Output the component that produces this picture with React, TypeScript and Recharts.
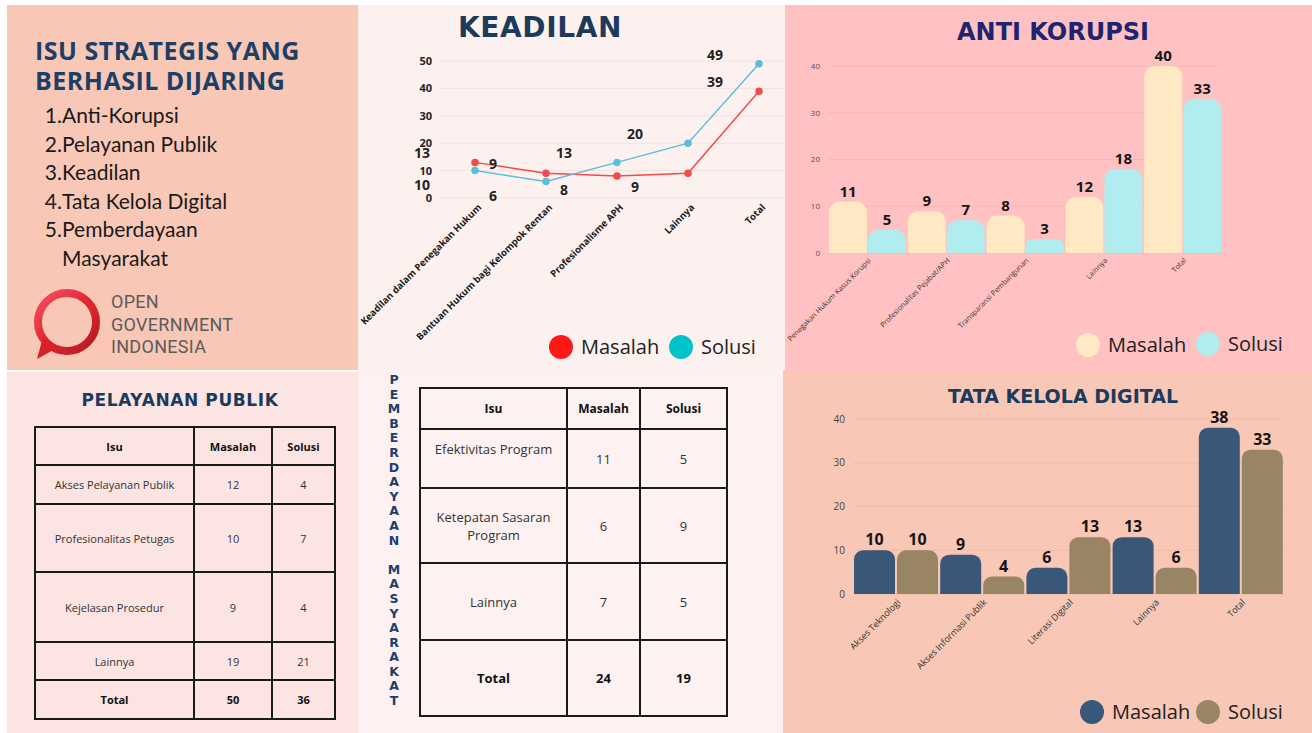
import React from 'react';
import { LineChart, Line, BarChart, Bar, XAxis, YAxis, CartesianGrid, LabelList } from 'recharts';

// ─── Data ─────────────────────────────────────────────────────────────────────

const isuList = ['Anti-Korupsi', 'Pelayanan Publik', 'Keadilan', 'Tata Kelola Digital', 'Pemberdayaan Masyarakat'];

const keadilanCats = [
  'Keadilan dalam Penegakan Hukum',
  'Bantuan Hukum bagi Kelompok Rentan',
  'Profesionalisme APH',
  'Lainnya',
  'Total',
];
const keadilanMasalah = [13, 9, 8, 9, 39];
const keadilanSolusi = [10, 6, 13, 20, 49];
const keadilanTicks = [0, 10, 20, 30, 40, 50];

const antiCats = [
  'Penegakan Hukum Kasus Korupsi',
  'Profesionalitas Pejabat/APH',
  'Transparansi Pembangunan',
  'Lainnya',
  'Total',
];
const antiMasalah = [11, 9, 8, 12, 40];
const antiSolusi = [5, 7, 3, 18, 33];
const antiTicks = [0, 10, 20, 30, 40];

const digitalCats = ['Akses Teknologi', 'Akses Informasi Publik', 'Literasi Digital', 'Lainnya', 'Total'];
const digitalMasalah = [10, 9, 6, 13, 38];
const digitalSolusi = [10, 4, 13, 6, 33];
const digitalTicks = [0, 10, 20, 30, 40];

const pelayananIsu = ['Akses Pelayanan Publik', 'Profesionalitas Petugas', 'Kejelasan Prosedur', 'Lainnya', 'Total'];
const pelayananMasalah = [12, 10, 9, 19, 50];
const pelayananSolusi = [4, 7, 4, 21, 36];

const pemberdayaanIsu = ['Efektivitas Program', 'Ketepatan Sasaran Program', 'Lainnya', 'Total'];
const pemberdayaanMasalah = [11, 6, 7, 24];
const pemberdayaanSolusi = [5, 9, 5, 19];

// ─── Helpers ──────────────────────────────────────────────────────────────────

const SANS = '"Open Sans", "Noto Sans", sans-serif';
const HEAVY = '"DejaVu Sans", Lato, sans-serif';

function zip(cats: string[], a: number[], b: number[]) {
  return cats.map((name, i) => ({ name, masalah: a[i], solusi: b[i] }));
}

function SlantTick(props: any) {
  const { x, y, payload, size, color, weight, dx = 0, dy = 0 } = props;
  return (
    <g transform={`translate(${x + dx},${y + dy})`}>
      <text
        textAnchor="end"
        transform="rotate(-45)"
        fontSize={size}
        fill={color}
        fontWeight={weight}
        fontFamily={SANS}
      >
        {payload.value}
      </text>
    </g>
  );
}

function LegendDot({ x, y, color, label }: { x: number; y: number; color: string; label: string }) {
  return (
    <div style={{ position: 'absolute', left: x - 12, top: y - 12, display: 'flex', alignItems: 'center' }}>
      <div style={{ width: 24, height: 24, borderRadius: 12, background: color }} />
      <span style={{ marginLeft: 8, fontFamily: SANS, fontSize: 20, color: '#222', lineHeight: '24px' }}>{label}</span>
    </div>
  );
}

function Title(props: { text: string; cx: number; cy: number; size: number; color: string; ls?: number }) {
  const { text, cx, cy, size, color, ls = 0 } = props;
  return (
    <div
      style={{
        position: 'absolute',
        left: cx - 200,
        width: 400,
        top: cy - size * 0.6,
        textAlign: 'center',
        fontFamily: HEAVY,
        fontWeight: 700,
        fontSize: size,
        lineHeight: `${size * 1.2}px`,
        color,
        letterSpacing: ls,
        whiteSpace: 'nowrap',
      }}
    >
      {text}
    </div>
  );
}

// Keadilan labels sit half a step to the left of their point, as in the source
function KeadilanLabel(other: number[], color: string) {
  return (props: any) => {
    const { x, y, value, index } = props;
    const last = index === other.length - 1;
    const above = last || value >= other[index];
    return (
      <text
        x={x + (last ? -44 : -53)}
        y={y + (above ? -4 : 19)}
        textAnchor="middle"
        fontSize={14}
        fontWeight={700}
        fontFamily={SANS}
        fill={color}
      >
        {value}
      </text>
    );
  };
}

// ─── Panels ───────────────────────────────────────────────────────────────────

function IntroPanel() {
  return (
    <div style={{ position: 'absolute', left: 7, top: 5, width: 351, height: 365, background: '#F8C7B6' }}>
      <div
        style={{
          position: 'absolute',
          left: 28,
          top: 30,
          fontFamily: SANS,
          fontWeight: 700,
          fontSize: 25,
          lineHeight: '30px',
          color: '#1C3F66',
          letterSpacing: 0.5,
          whiteSpace: 'nowrap',
        }}
      >
        ISU STRATEGIS YANG
        <br />
        BERHASIL DIJARING
      </div>
      <div style={{ position: 'absolute', left: 30, top: 96, fontFamily: 'Lato, sans-serif', fontSize: 21, color: '#1a1a1a' }}>
        {isuList.map((item, i) => (
          <div key={item} style={{ display: 'flex', lineHeight: '28.6px' }}>
            <span style={{ width: 25, textAlign: 'right' }}>{i + 1}.</span>
            <span style={{ width: 160, whiteSpace: i === isuList.length - 1 ? 'normal' : 'nowrap' }}>{item}</span>
          </div>
        ))}
      </div>
      <svg style={{ position: 'absolute', left: 20, top: 280 }} width={90} height={85}>
        <defs>
          <linearGradient id="ring" x1="0" y1="0" x2="1" y2="1">
            <stop offset="0" stopColor="#F0506A" />
            <stop offset="0.45" stopColor="#E52A32" />
            <stop offset="1" stopColor="#B81620" />
          </linearGradient>
        </defs>
        <circle cx={40} cy={37} r={29} fill="none" stroke="url(#ring)" strokeWidth={8} />
        <path d="M16 52 L10 74 L32 62 Z" fill="#D91F2A" />
      </svg>
      <div
        style={{
          position: 'absolute',
          left: 104,
          top: 286,
          fontFamily: 'Roboto, sans-serif',
          fontSize: 18,
          lineHeight: '22.5px',
          color: '#5b5b5b',
          letterSpacing: 0.3,
        }}
      >
        OPEN
        <br />
        GOVERNMENT
        <br />
        INDONESIA
      </div>
    </div>
  );
}

function KeadilanPanel() {
  const data = zip(keadilanCats, keadilanMasalah, keadilanSolusi);
  return (
    <div style={{ position: 'absolute', left: 358, top: 5, width: 427, height: 365, background: '#FDF1F0' }}>
      <LineChart width={427} height={365} data={data} margin={{ top: 56, right: 0, bottom: 0, left: 0 }}>
        <CartesianGrid vertical={false} stroke="#F5E0DF" />
        <XAxis
          dataKey="name"
          axisLine={false}
          tickLine={false}
          interval={0}
          height={172}
          padding={{ left: 35, right: 26 }}
          tick={<SlantTick size={9.5} color="#1a1a1a" weight={700} dx={7} dy={2} />}
        />
        <YAxis
          width={82}
          domain={[0, 50]}
          ticks={keadilanTicks}
          axisLine={false}
          tickLine={false}
          tick={{ fontSize: 11, fontWeight: 700, fill: '#222', fontFamily: SANS }}
        />
        <Line
          dataKey="masalah"
          stroke="#F24B4B"
          strokeWidth={1.5}
          dot={{ r: 3, fill: '#F24B4B', stroke: '#F24B4B' }}
          isAnimationActive={false}
        >
          <LabelList dataKey="masalah" content={KeadilanLabel(keadilanSolusi, '#222')} />
        </Line>
        <Line
          dataKey="solusi"
          stroke="#5BBFDB"
          strokeWidth={1.5}
          dot={{ r: 3, fill: '#5BBFDB', stroke: '#5BBFDB' }}
          isAnimationActive={false}
        >
          <LabelList dataKey="solusi" content={KeadilanLabel(keadilanMasalah, '#222')} />
        </Line>
      </LineChart>
      <Title text="KEADILAN" cx={182} cy={23} size={28} color="#1B3A5C" ls={0.6} />
      <LegendDot x={203} y={342} color="#FF1818" label="Masalah" />
      <LegendDot x={323} y={342} color="#00C3C8" label="Solusi" />
    </div>
  );
}

function AntiKorupsiPanel() {
  const data = zip(antiCats, antiMasalah, antiSolusi);
  const label = { position: 'top' as const, fontSize: 15, fontWeight: 700, fill: '#151515', fontFamily: SANS };
  return (
    <div style={{ position: 'absolute', left: 785, top: 5, width: 527, height: 365, background: '#FFC1C1' }}>
      <BarChart
        width={527}
        height={365}
        data={data}
        margin={{ top: 61, right: 90, bottom: 0, left: 0 }}
        barCategoryGap={1}
        barGap={1}
      >
        <CartesianGrid vertical={false} stroke="#F7B7B7" />
        <XAxis
          dataKey="name"
          axisLine={false}
          tickLine={false}
          interval={0}
          height={117}
          tick={<SlantTick size={7.3} color="#333" weight={400} dx={4} dy={0} />}
        />
        <YAxis
          width={43}
          domain={[0, 40]}
          ticks={antiTicks}
          axisLine={false}
          tickLine={false}
          tick={{ fontSize: 8, fill: '#555', fontFamily: SANS }}
        />
        <Bar dataKey="masalah" fill="#FFE8C4" radius={[11, 11, 0, 0]} isAnimationActive={false}>
          <LabelList dataKey="masalah" {...label} />
        </Bar>
        <Bar dataKey="solusi" fill="#B1EDEE" radius={[11, 11, 0, 0]} isAnimationActive={false}>
          <LabelList dataKey="solusi" {...label} />
        </Bar>
      </BarChart>
      <Title text="ANTI KORUPSI" cx={268} cy={27} size={24} color="#1E2470" ls={0} />
      <LegendDot x={303} y={340} color="#FFE8C4" label="Masalah" />
      <LegendDot x={423} y={339} color="#B1EDEE" label="Solusi" />
    </div>
  );
}

function DigitalPanel() {
  const data = zip(digitalCats, digitalMasalah, digitalSolusi);
  const label = { position: 'top' as const, fontSize: 16, fontWeight: 700, fill: '#151515', fontFamily: SANS };
  return (
    <div style={{ position: 'absolute', left: 785, top: 370, width: 527, height: 363, background: '#F8C7B5' }}>
      <div style={{ position: 'absolute', left: 0, top: 0, width: 527, height: 2, background: '#FFC1C1' }} />
      <BarChart
        width={527}
        height={363}
        data={data}
        margin={{ top: 49, right: 28, bottom: 0, left: 0 }}
        barCategoryGap={1}
        barGap={2}
      >
        <CartesianGrid vertical={false} stroke="#F1BBA9" />
        <XAxis
          dataKey="name"
          axisLine={false}
          tickLine={false}
          interval={0}
          height={139}
          tick={<SlantTick size={9} color="#333" weight={400} dx={5} dy={1} />}
        />
        <YAxis
          width={68}
          domain={[0, 40]}
          ticks={digitalTicks}
          axisLine={false}
          tickLine={false}
          tick={{ fontSize: 10, fill: '#444', fontFamily: SANS }}
        />
        <Bar dataKey="masalah" fill="#395779" radius={[9, 9, 0, 0]} isAnimationActive={false}>
          <LabelList dataKey="masalah" {...label} />
        </Bar>
        <Bar dataKey="solusi" fill="#978563" radius={[9, 9, 0, 0]} isAnimationActive={false}>
          <LabelList dataKey="solusi" {...label} />
        </Bar>
      </BarChart>
      <Title text="TATA KELOLA DIGITAL" cx={278} cy={26} size={19} color="#1B3A5C" ls={0} />
      <LegendDot x={307} y={342} color="#395779" label="Masalah" />
      <LegendDot x={423} y={342} color="#978563" label="Solusi" />
    </div>
  );
}

const cell = (w: number, h: number, bold: boolean, size: number): React.CSSProperties => ({
  width: w,
  height: h,
  border: '2px solid #1a1a1a',
  textAlign: 'center',
  verticalAlign: 'middle',
  fontFamily: SANS,
  fontSize: size,
  fontWeight: bold ? 700 : 400,
  color: bold ? '#111' : '#333',
  padding: '0 6px',
  boxSizing: 'border-box',
});

function PelayananPanel() {
  const rowH = [39, 68, 70, 38, 39];
  const colW = [159, 78, 63];
  return (
    <div style={{ position: 'absolute', left: 7, top: 372, width: 351, height: 361, background: '#FCE4E2' }}>
      <Title text="PELAYANAN PUBLIK" cx={173} cy={28} size={17} color="#1B3A5C" ls={0.6} />
      <table style={{ position: 'absolute', left: 27, top: 54, borderCollapse: 'collapse', tableLayout: 'fixed' }}>
        <tbody>
          <tr>
            <td style={cell(colW[0], 38, true, 11)}>Isu</td>
            <td style={cell(colW[1], 38, true, 11)}>Masalah</td>
            <td style={cell(colW[2], 38, true, 11)}>Solusi</td>
          </tr>
          {pelayananIsu.map((isu, i) => {
            const bold = i === pelayananIsu.length - 1;
            return (
              <tr key={isu}>
                <td style={cell(colW[0], rowH[i], bold, 11)}>{isu}</td>
                <td style={cell(colW[1], rowH[i], bold, 11)}>{pelayananMasalah[i]}</td>
                <td style={cell(colW[2], rowH[i], bold, 11)}>{pelayananSolusi[i]}</td>
              </tr>
            );
          })}
        </tbody>
      </table>
    </div>
  );
}

function PemberdayaanPanel() {
  const rowH = [59, 75, 77, 76];
  const colW = [147, 73, 87];
  const vertical = 'PEMBERDAYAAN MASYARAKAT'.split('');
  return (
    <div style={{ position: 'absolute', left: 358, top: 370, width: 427, height: 363, background: '#FDF2F1' }}>
      <div style={{ position: 'absolute', right: 0, top: 0, width: 2, height: 363, background: '#F8C7B5' }} />
      <div
        style={{
          position: 'absolute',
          left: 26,
          top: 3,
          width: 20,
          textAlign: 'center',
          fontFamily: HEAVY,
          fontWeight: 700,
          fontSize: 12.5,
          lineHeight: '14.6px',
          color: '#1B3F6E',
        }}
      >
        {vertical.map((ch, i) => (
          <div key={i} style={{ height: 14.6 }}>
            {ch === ' ' ? '\u00a0' : ch}
          </div>
        ))}
      </div>
      <table style={{ position: 'absolute', left: 61, top: 17, borderCollapse: 'collapse', tableLayout: 'fixed' }}>
        <tbody>
          <tr>
            <td style={cell(colW[0], 41, true, 12)}>Isu</td>
            <td style={cell(colW[1], 41, true, 12)}>Masalah</td>
            <td style={cell(colW[2], 41, true, 12)}>Solusi</td>
          </tr>
          {pemberdayaanIsu.map((isu, i) => {
            const bold = i === pemberdayaanIsu.length - 1;
            const first = i === 0;
            return (
              <tr key={isu}>
                <td
                  style={{
                    ...cell(colW[0], rowH[i], bold, 13),
                    verticalAlign: first ? 'top' : 'middle',
                    paddingTop: first ? 10 : 0,
                  }}
                >
                  {isu}
                </td>
                <td style={cell(colW[1], rowH[i], bold, 13)}>{pemberdayaanMasalah[i]}</td>
                <td style={cell(colW[2], rowH[i], bold, 13)}>{pemberdayaanSolusi[i]}</td>
              </tr>
            );
          })}
        </tbody>
      </table>
    </div>
  );
}

// ─── App ──────────────────────────────────────────────────────────────────────

export default function App() {
  return (
    <div style={{ position: 'absolute', left: 0, top: 0, width: 1312, height: 733, background: '#fff', overflow: 'hidden' }}>
      <IntroPanel />
      <KeadilanPanel />
      <AntiKorupsiPanel />
      <PelayananPanel />
      <PemberdayaanPanel />
      <DigitalPanel />
    </div>
  );
}
